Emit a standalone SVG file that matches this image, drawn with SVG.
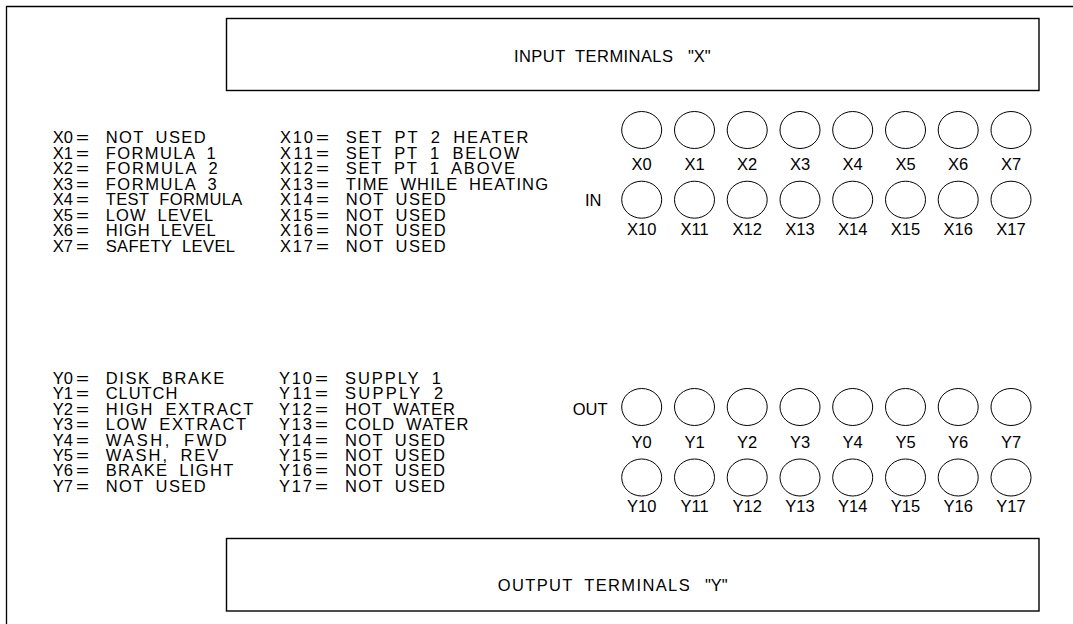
<svg xmlns="http://www.w3.org/2000/svg" width="1073" height="624" viewBox="0 0 1073 624">
<style>
text{font-family:"Liberation Sans",Arial,sans-serif;font-size:16.5px;fill:#000;word-spacing:5px}
.ln{stroke:#000;stroke-width:1.3;fill:none}
.box{stroke:#000;stroke-width:1.4;fill:#fff}
.t{stroke:#000;stroke-width:1;fill:#fff}
.c{text-anchor:middle}
</style>
<rect width="1073" height="624" fill="#fff"/>
<g id="frame">
<path class="ln" d="M1073 6.5H6.5V624"/>
</g>
<g id="input-box">
<rect class="box" x="226.5" y="18.5" width="812.5" height="72"/>
<text x="514" y="62" textLength="159" lengthAdjust="spacing">INPUT TERMINALS</text>
<text x="688" y="62">"X"</text>
</g>
<g id="output-box">
<rect class="box" x="226.5" y="538.5" width="812.5" height="72.5"/>
<text x="497.7" y="591" textLength="192" lengthAdjust="spacing">OUTPUT TERMINALS</text>
<text x="705" y="591">"Y"</text>
</g>
<g id="x-legend">
<text x="52.7" y="143.3">X0<tspan x="76" textLength="13" lengthAdjust="spacingAndGlyphs">=</tspan><tspan x="105.7" textLength="100">NOT USED</tspan></text>
<text x="52.7" y="158.8">X1<tspan x="76" textLength="13" lengthAdjust="spacingAndGlyphs">=</tspan><tspan x="105.7" textLength="110">FORMULA 1</tspan></text>
<text x="52.7" y="174.3">X2<tspan x="76" textLength="13" lengthAdjust="spacingAndGlyphs">=</tspan><tspan x="105.7" textLength="112">FORMULA 2</tspan></text>
<text x="52.7" y="189.8">X3<tspan x="76" textLength="13" lengthAdjust="spacingAndGlyphs">=</tspan><tspan x="105.7" textLength="111">FORMULA 3</tspan></text>
<text x="52.7" y="205.3">X4<tspan x="76" textLength="13" lengthAdjust="spacingAndGlyphs">=</tspan><tspan x="105.7" textLength="136.6">TEST FORMULA</tspan></text>
<text x="52.7" y="220.8">X5<tspan x="76" textLength="13" lengthAdjust="spacingAndGlyphs">=</tspan><tspan x="105.7" textLength="107.6">LOW LEVEL</tspan></text>
<text x="52.7" y="236.3">X6<tspan x="76" textLength="13" lengthAdjust="spacingAndGlyphs">=</tspan><tspan x="105.7" textLength="110">HIGH LEVEL</tspan></text>
<text x="52.7" y="251.8">X7<tspan x="76" textLength="13" lengthAdjust="spacingAndGlyphs">=</tspan><tspan x="105.7" textLength="129.3">SAFETY LEVEL</tspan></text>
<text y="143.3"><tspan x="280" textLength="33">X10</tspan><tspan x="316" textLength="13" lengthAdjust="spacingAndGlyphs">=</tspan><tspan x="345.7" textLength="182.6">SET PT 2 HEATER</tspan></text>
<text y="158.8"><tspan x="280" textLength="33">X11</tspan><tspan x="316" textLength="13" lengthAdjust="spacingAndGlyphs">=</tspan><tspan x="345.7" textLength="173.6">SET PT 1 BELOW</tspan></text>
<text y="174.3"><tspan x="280" textLength="33">X12</tspan><tspan x="316" textLength="13" lengthAdjust="spacingAndGlyphs">=</tspan><tspan x="345.7" textLength="169.3">SET PT 1 ABOVE</tspan></text>
<text y="189.8"><tspan x="280" textLength="33">X13</tspan><tspan x="316" textLength="13" lengthAdjust="spacingAndGlyphs">=</tspan><tspan x="345.7" textLength="202.3">TIME WHILE HEATING</tspan></text>
<text y="205.3"><tspan x="280" textLength="33">X14</tspan><tspan x="316" textLength="13" lengthAdjust="spacingAndGlyphs">=</tspan><tspan x="345.7" textLength="100">NOT USED</tspan></text>
<text y="220.8"><tspan x="280" textLength="33">X15</tspan><tspan x="316" textLength="13" lengthAdjust="spacingAndGlyphs">=</tspan><tspan x="345.7" textLength="100">NOT USED</tspan></text>
<text y="236.3"><tspan x="280" textLength="33">X16</tspan><tspan x="316" textLength="13" lengthAdjust="spacingAndGlyphs">=</tspan><tspan x="345.7" textLength="100">NOT USED</tspan></text>
<text y="251.8"><tspan x="280" textLength="33">X17</tspan><tspan x="316" textLength="13" lengthAdjust="spacingAndGlyphs">=</tspan><tspan x="345.7" textLength="100">NOT USED</tspan></text>
</g>
<g id="y-legend">
<text x="52.7" y="384">Y0<tspan x="76" textLength="13" lengthAdjust="spacingAndGlyphs">=</tspan><tspan x="105.7" textLength="118.6">DISK BRAKE</tspan></text>
<text x="52.7" y="399.4">Y1<tspan x="76" textLength="13" lengthAdjust="spacingAndGlyphs">=</tspan><tspan x="105.7" textLength="71.6">CLUTCH</tspan></text>
<text x="52.7" y="414.8">Y2<tspan x="76" textLength="13" lengthAdjust="spacingAndGlyphs">=</tspan><tspan x="105.7" textLength="147.6">HIGH EXTRACT</tspan></text>
<text x="52.7" y="430.2">Y3<tspan x="76" textLength="13" lengthAdjust="spacingAndGlyphs">=</tspan><tspan x="105.7" textLength="140.3">LOW EXTRACT</tspan></text>
<text x="52.7" y="445.6">Y4<tspan x="76" textLength="13" lengthAdjust="spacingAndGlyphs">=</tspan><tspan x="105.7" textLength="121">WASH, FWD</tspan></text>
<text x="52.7" y="461">Y5<tspan x="76" textLength="13" lengthAdjust="spacingAndGlyphs">=</tspan><tspan x="105.7" textLength="112.6">WASH, REV</tspan></text>
<text x="52.7" y="476.4">Y6<tspan x="76" textLength="13" lengthAdjust="spacingAndGlyphs">=</tspan><tspan x="105.7" textLength="127.6">BRAKE LIGHT</tspan></text>
<text x="52.7" y="491.8">Y7<tspan x="76" textLength="13" lengthAdjust="spacingAndGlyphs">=</tspan><tspan x="105.7" textLength="100">NOT USED</tspan></text>
<text y="384"><tspan x="279" textLength="33">Y10</tspan><tspan x="315" textLength="13" lengthAdjust="spacingAndGlyphs">=</tspan><tspan x="345" textLength="96">SUPPLY 1</tspan></text>
<text y="399.4"><tspan x="279" textLength="33">Y11</tspan><tspan x="315" textLength="13" lengthAdjust="spacingAndGlyphs">=</tspan><tspan x="345" textLength="98.3">SUPPLY 2</tspan></text>
<text y="414.8"><tspan x="279" textLength="33">Y12</tspan><tspan x="315" textLength="13" lengthAdjust="spacingAndGlyphs">=</tspan><tspan x="345" textLength="110">HOT WATER</tspan></text>
<text y="430.2"><tspan x="279" textLength="33">Y13</tspan><tspan x="315" textLength="13" lengthAdjust="spacingAndGlyphs">=</tspan><tspan x="345" textLength="123.3">COLD WATER</tspan></text>
<text y="445.6"><tspan x="279" textLength="33">Y14</tspan><tspan x="315" textLength="13" lengthAdjust="spacingAndGlyphs">=</tspan><tspan x="345" textLength="100">NOT USED</tspan></text>
<text y="461"><tspan x="279" textLength="33">Y15</tspan><tspan x="315" textLength="13" lengthAdjust="spacingAndGlyphs">=</tspan><tspan x="345" textLength="100">NOT USED</tspan></text>
<text y="476.4"><tspan x="279" textLength="33">Y16</tspan><tspan x="315" textLength="13" lengthAdjust="spacingAndGlyphs">=</tspan><tspan x="345" textLength="100">NOT USED</tspan></text>
<text y="491.8"><tspan x="279" textLength="33">Y17</tspan><tspan x="315" textLength="13" lengthAdjust="spacingAndGlyphs">=</tspan><tspan x="345" textLength="100">NOT USED</tspan></text>
</g>
<g id="in-terminals">
<text x="585" y="206">IN</text>
<g id="X0"><ellipse class="t" cx="641.7" cy="130" rx="20" ry="18.5"/><text class="c" x="641.7" y="170">X0</text></g>
<g id="X1"><ellipse class="t" cx="694.5" cy="130" rx="20" ry="18.5"/><text class="c" x="694.5" y="170">X1</text></g>
<g id="X2"><ellipse class="t" cx="747.2" cy="130" rx="20" ry="18.5"/><text class="c" x="747.2" y="170">X2</text></g>
<g id="X3"><ellipse class="t" cx="800" cy="130" rx="20" ry="18.5"/><text class="c" x="800" y="170">X3</text></g>
<g id="X4"><ellipse class="t" cx="852.7" cy="130" rx="20" ry="18.5"/><text class="c" x="852.7" y="170">X4</text></g>
<g id="X5"><ellipse class="t" cx="905.5" cy="130" rx="20" ry="18.5"/><text class="c" x="905.5" y="170">X5</text></g>
<g id="X6"><ellipse class="t" cx="958.2" cy="130" rx="20" ry="18.5"/><text class="c" x="958.2" y="170">X6</text></g>
<g id="X7"><ellipse class="t" cx="1011" cy="130" rx="20" ry="18.5"/><text class="c" x="1011" y="170">X7</text></g>
<g id="X10"><ellipse class="t" cx="641.7" cy="199.7" rx="20" ry="18.5"/><text class="c" x="641.7" y="235">X10</text></g>
<g id="X11"><ellipse class="t" cx="694.5" cy="199.7" rx="20" ry="18.5"/><text class="c" x="694.5" y="235">X11</text></g>
<g id="X12"><ellipse class="t" cx="747.2" cy="199.7" rx="20" ry="18.5"/><text class="c" x="747.2" y="235">X12</text></g>
<g id="X13"><ellipse class="t" cx="800" cy="199.7" rx="20" ry="18.5"/><text class="c" x="800" y="235">X13</text></g>
<g id="X14"><ellipse class="t" cx="852.7" cy="199.7" rx="20" ry="18.5"/><text class="c" x="852.7" y="235">X14</text></g>
<g id="X15"><ellipse class="t" cx="905.5" cy="199.7" rx="20" ry="18.5"/><text class="c" x="905.5" y="235">X15</text></g>
<g id="X16"><ellipse class="t" cx="958.2" cy="199.7" rx="20" ry="18.5"/><text class="c" x="958.2" y="235">X16</text></g>
<g id="X17"><ellipse class="t" cx="1011" cy="199.7" rx="20" ry="18.5"/><text class="c" x="1011" y="235">X17</text></g>
</g>
<g id="out-terminals">
<text x="572.7" y="415">OUT</text>
<g id="Y0"><ellipse class="t" cx="641.7" cy="407" rx="20" ry="18.5"/><text class="c" x="641.7" y="448">Y0</text></g>
<g id="Y1"><ellipse class="t" cx="694.5" cy="407" rx="20" ry="18.5"/><text class="c" x="694.5" y="448">Y1</text></g>
<g id="Y2"><ellipse class="t" cx="747.2" cy="407" rx="20" ry="18.5"/><text class="c" x="747.2" y="448">Y2</text></g>
<g id="Y3"><ellipse class="t" cx="800" cy="407" rx="20" ry="18.5"/><text class="c" x="800" y="448">Y3</text></g>
<g id="Y4"><ellipse class="t" cx="852.7" cy="407" rx="20" ry="18.5"/><text class="c" x="852.7" y="448">Y4</text></g>
<g id="Y5"><ellipse class="t" cx="905.5" cy="407" rx="20" ry="18.5"/><text class="c" x="905.5" y="448">Y5</text></g>
<g id="Y6"><ellipse class="t" cx="958.2" cy="407" rx="20" ry="18.5"/><text class="c" x="958.2" y="448">Y6</text></g>
<g id="Y7"><ellipse class="t" cx="1011" cy="407" rx="20" ry="18.5"/><text class="c" x="1011" y="448">Y7</text></g>
<g id="Y10"><ellipse class="t" cx="641.7" cy="477.5" rx="20" ry="18.5"/><text class="c" x="641.7" y="512">Y10</text></g>
<g id="Y11"><ellipse class="t" cx="694.5" cy="477.5" rx="20" ry="18.5"/><text class="c" x="694.5" y="512">Y11</text></g>
<g id="Y12"><ellipse class="t" cx="747.2" cy="477.5" rx="20" ry="18.5"/><text class="c" x="747.2" y="512">Y12</text></g>
<g id="Y13"><ellipse class="t" cx="800" cy="477.5" rx="20" ry="18.5"/><text class="c" x="800" y="512">Y13</text></g>
<g id="Y14"><ellipse class="t" cx="852.7" cy="477.5" rx="20" ry="18.5"/><text class="c" x="852.7" y="512">Y14</text></g>
<g id="Y15"><ellipse class="t" cx="905.5" cy="477.5" rx="20" ry="18.5"/><text class="c" x="905.5" y="512">Y15</text></g>
<g id="Y16"><ellipse class="t" cx="958.2" cy="477.5" rx="20" ry="18.5"/><text class="c" x="958.2" y="512">Y16</text></g>
<g id="Y17"><ellipse class="t" cx="1011" cy="477.5" rx="20" ry="18.5"/><text class="c" x="1011" y="512">Y17</text></g>
</g>
<g id="connectors"/>
</svg>
